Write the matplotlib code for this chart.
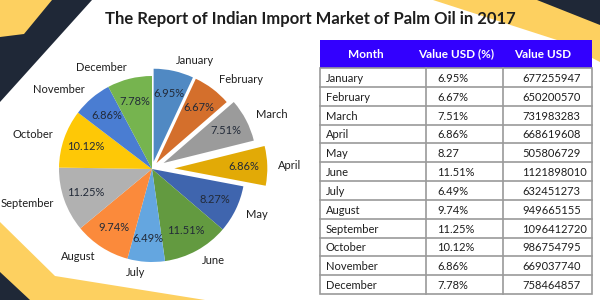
import matplotlib.pyplot as plt
from matplotlib.patches import Polygon, Rectangle

plt.rcParams['font.family'] = ['Lato', 'DejaVu Sans']

# ── data ──────────────────────────────────────────────────────────────────────
months = ["January", "February", "March", "April", "May", "June", "July",
          "August", "September", "October", "November", "December"]
share = [6.95, 6.67, 7.51, 6.86, 8.27, 11.51, 6.49, 9.74, 11.25, 10.12, 6.86, 7.78]
share_txt = ["6.95%", "6.67%", "7.51%", "6.86%", "8.27", "11.51%", "6.49%",
             "9.74%", "11.25%", "10.12%", "6.86%", "7.78%"]
usd = [677255947, 650200570, 731983283, 668619608, 505806729, 1121898010,
       632451273, 949665155, 1096412720, 986754795, 669037740, 758464857]
headers = ["Month", "Value USD (%)", "Value USD"]

colors = ["#5089c3", "#d46f2c", "#9b9b9b", "#e2aa06", "#3f65ae", "#639a40",
          "#64a6e0", "#fb8a3b", "#b1b1b1", "#fec806", "#4a7dd2", "#76b44f"]
explode = [0.08, 0.08, 0.14, 0.24, 0, 0, 0, 0, 0, 0, 0, 0]

YELLOW = "#fdd060"
NAVY = "#1f2837"
HEAD = "#3300fe"
GRID = "#9a9a9a"
TXT = "#1e1e1e"

W, H = 600, 300
fig = plt.figure(figsize=(6, 3), dpi=100, facecolor="white")

# ── background decoration (pixel coords) ──────────────────────────────────────
bg = fig.add_axes([0, 0, 1, 1], zorder=0)
bg.set_xlim(0, W)
bg.set_ylim(H, 0)
bg.axis("off")
bg.add_patch(Polygon([(0, 0), (92, 0), (0, 102)], color=NAVY, lw=0))
bg.add_patch(Polygon([(0, 0), (52, 0), (24, 34), (0, 37)], color=YELLOW, lw=0))
bg.add_patch(Polygon([(0, 222), (55, 276), (205, 300), (0, 300)], color=YELLOW, lw=0))
bg.add_patch(Polygon([(0, 272), (30, 300), (0, 300)], color=NAVY, lw=0))
bg.add_patch(Polygon([(433, 0), (600, 0), (600, 62), (557, 40)], color=YELLOW, lw=0))
bg.add_patch(Polygon([(537, 0), (600, 0), (600, 25)], color=NAVY, lw=0))

# ── title ────────────────────────────────────────────────────────────────────
fig.text(310 / W, 1 - 19 / H, "The Report of Indian Import Market of Palm Oil in 2017",
         ha="center", va="center", fontsize=12, fontweight="bold", color=TXT)

# ── pie ──────────────────────────────────────────────────────────────────────
cx, cy, r = 152, 169, 93
S = 3.2 * r
ax = fig.add_axes([(cx - S / 2) / W, (H - cy - S / 2) / H, S / W, S / H], zorder=2)
wedges, labels, pcts = ax.pie(share, labels=months, colors=colors, explode=explode,
                              startangle=90, counterclock=False, autopct="%.2f%%",
                              pctdistance=0.75, labeldistance=1.12,
                              wedgeprops=dict(linewidth=0),
                              textprops=dict(fontsize=8, color=TXT))
for t, s in zip(pcts, share_txt):
    t.set_text(s if s.endswith("%") else s + "%")
    t.set_fontsize(8)
    t.set_color("#222a38")
ax.set_xlim(-1.6, 1.6)
ax.set_ylim(-1.6, 1.6)
ax.set_aspect("equal")
ax.axis("off")

# ── table ────────────────────────────────────────────────────────────────────
xs = [320, 426, 503, 592]
top, head_bot, bot = 40, 68, 294
rh = (bot - head_bot) / len(months)

bg.add_patch(Rectangle((xs[0], top), xs[-1] - xs[0], head_bot - top, color=HEAD, lw=0))
head_cx = [366, 456, 543]
for x, h in zip(head_cx, headers):
    bg.text(x, (top + head_bot) / 2, h, ha="center", va="center", color="white",
            fontsize=8.5, fontweight="bold")

bg.add_patch(Rectangle((xs[0], head_bot), xs[-1] - xs[0], bot - head_bot,
                       fill=False, edgecolor=GRID, lw=1.2))
for x in xs[1:-1]:
    bg.plot([x, x], [head_bot, bot], color=GRID, lw=1.2)
for i, (m, s, v) in enumerate(zip(months, share_txt, usd)):
    y0 = head_bot + i * rh
    if i > 0:
        bg.plot([xs[0], xs[-1]], [y0, y0], color=GRID, lw=1.2)
    yc = y0 + rh / 2 + 1
    bg.text(326, yc, m, ha="left", va="center", fontsize=8, color=TXT)
    bg.text(437, yc, s, ha="left", va="center", fontsize=8, color=TXT)
    bg.text(522, yc, f"{v}", ha="left", va="center", fontsize=8, color=TXT)

fig.savefig("out.png", dpi=100, facecolor="white")
